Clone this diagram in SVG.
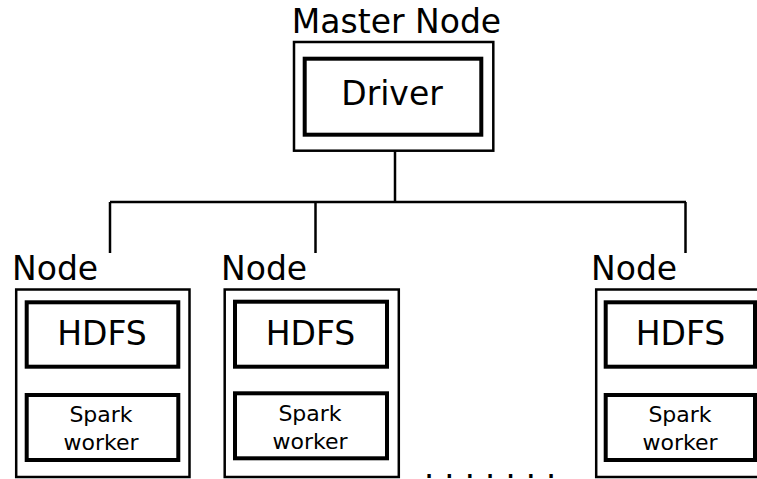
<svg xmlns="http://www.w3.org/2000/svg" width="757" height="479" viewBox="0 0 757 479">
  <style>
    .outer { fill: #ffffff; stroke: #000000; stroke-width: 2.5; }
    .inner { fill: #ffffff; stroke: #000000; stroke-width: 4; }
    .wire { fill: none; stroke: #000000; stroke-width: 2.5; }
    text { font-family: "DejaVu Sans", "Liberation Sans", sans-serif; fill: #000000; }
    .big { font-size: 33px; }
    .small { font-size: 22px; }
    .mid { text-anchor: middle; }
  </style>
  <rect width="757" height="479" fill="#ffffff"/>

  <!-- connectors: master down to a bus, bus down to each node -->
  <g id="connectors">
    <path class="wire" d="M395 151 V202"/>
    <path class="wire" d="M110 202 H686"/>
    <path class="wire" d="M110 202 V253"/>
    <path class="wire" d="M315.5 202 V253"/>
    <path class="wire" d="M685.5 202 V253"/>
  </g>

  <g id="master">
    <text class="big mid" x="396.5" y="33">Master Node</text>
    <rect class="outer" x="294" y="42" width="199.3" height="108.7"/>
    <rect class="inner" x="304.7" y="58.7" width="176.6" height="76"/>
    <text class="big mid" x="392" y="105">Driver</text>
  </g>

  <g id="node1">
    <text class="big" x="12" y="280">Node</text>
    <rect class="outer" x="16.2" y="289.5" width="173.3" height="187.5"/>
    <rect class="inner" x="26.7" y="302.3" width="151.6" height="64.4"/>
    <text class="big mid" x="102" y="345">HDFS</text>
    <rect class="inner" x="26.7" y="395" width="151.6" height="65"/>
    <text class="small mid" x="101" y="422">Spark</text>
    <text class="small mid" x="101" y="450">worker</text>
  </g>

  <g id="node2">
    <text class="big" x="221" y="280">Node</text>
    <rect class="outer" x="224.7" y="289.5" width="174.1" height="187.5"/>
    <rect class="inner" x="235" y="301.7" width="152" height="65"/>
    <text class="big mid" x="310.5" y="345">HDFS</text>
    <rect class="inner" x="235" y="393.3" width="152" height="65"/>
    <text class="small mid" x="310" y="421">Spark</text>
    <text class="small mid" x="310" y="449">worker</text>
  </g>

  <g id="node3">
    <text class="big" x="591" y="280">Node</text>
    <rect class="outer" x="596.2" y="289.5" width="173.3" height="187.5"/>
    <rect class="inner" x="605.7" y="302.3" width="149.3" height="64.4"/>
    <text class="big mid" x="680.5" y="345">HDFS</text>
    <rect class="inner" x="605.7" y="395" width="149.3" height="65"/>
    <text class="small mid" x="680" y="422">Spark</text>
    <text class="small mid" x="680" y="450">worker</text>
  </g>

  <g id="ellipsis">
    <text class="big" style="font-size:32px" x="424" y="478">. . . . . . .</text>
  </g>
</svg>
